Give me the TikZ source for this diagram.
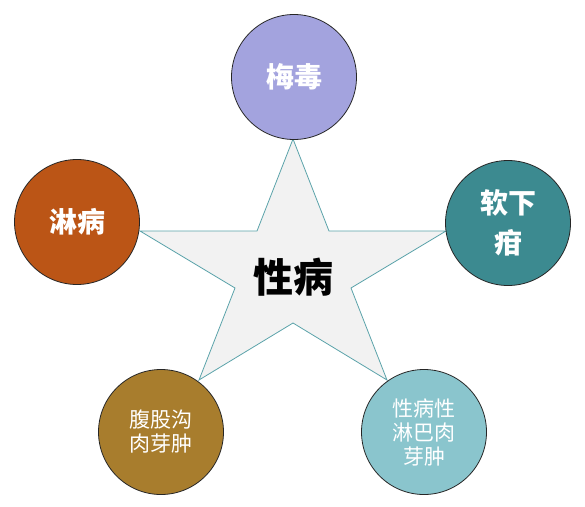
\documentclass[tikz,border=0pt]{standalone}
\usepackage{fontspec}
\newfontfamily\cjk{Noto Sans CJK SC}
\definecolor{lavender}{HTML}{A3A3DE}
\definecolor{rust}{HTML}{BB5516}
\definecolor{darkteal}{HTML}{3C8A90}
\definecolor{paleteal}{HTML}{8AC5CD}
\definecolor{ochre}{HTML}{A87D2D}
\definecolor{starfill}{HTML}{F2F2F2}
\definecolor{starline}{HTML}{5BA3AA}
\begin{document}
\begin{tikzpicture}[x=1pt, y=-1pt,
    disease/.style={circle, draw=black!85, line width=.8pt, minimum size=125pt,
        inner sep=0pt, align=center, text=white, font=\cjk\fontsize{28}{40}\selectfont\bfseries},
    smalltext/.style={font=\cjk\fontsize{21}{24}\selectfont}]
    \useasboundingbox (0,0) rectangle (585,506);
    \draw [fill=starfill, draw=starline, line width=.8pt]
        (293,139) -- (257,231) -- (140,231) -- (235,288) -- (199,380) -- (293,323)
        -- (387,380) -- (351,288) -- (446,231) -- (329,231) -- cycle;
    \node (std) at (293,277) {\cjk\fontsize{40}{44}\selectfont\bfseries 性病};
    \node[disease, fill=lavender] (syphilis) at (294,77) {梅毒};
    \node[disease, fill=rust] (gonorrhea) at (77,222) {淋病};
    \node[disease, fill=darkteal] (chancroid) at (508,223) {软下\\疳};
    \node[disease, smalltext, fill=paleteal] (lgv) at (424,432) {性病性\\淋巴肉\\芽肿};
    \node[disease, smalltext, fill=ochre] (granuloma) at (161,432) {腹股沟\\肉芽肿};
\end{tikzpicture}
\end{document}
